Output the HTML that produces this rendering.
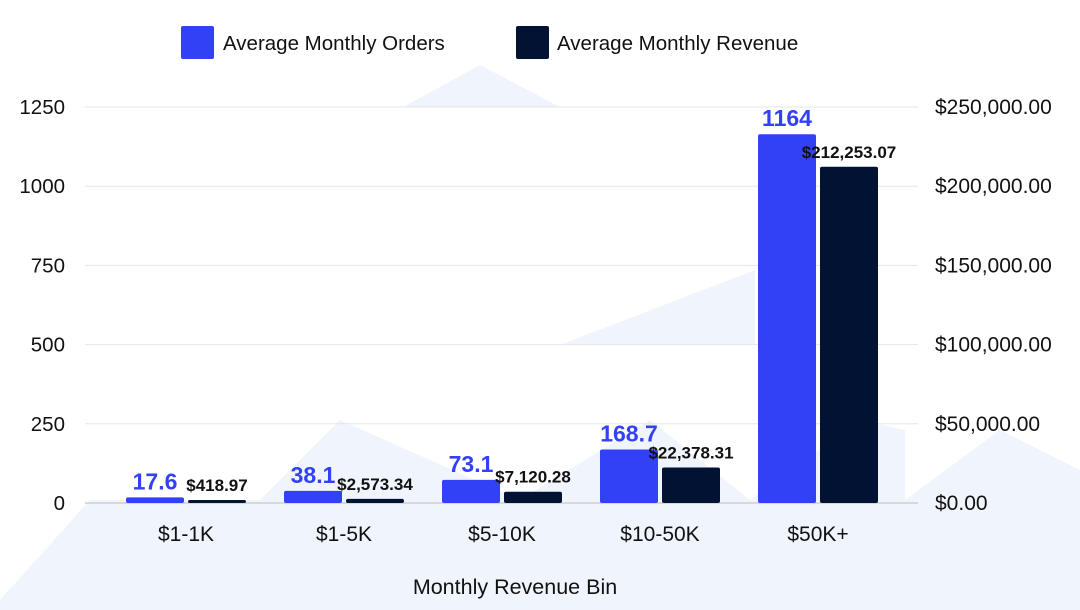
<!DOCTYPE html>
<html><head><meta charset="utf-8">
<style>
html,body{margin:0;padding:0;background:#fff;}
svg{display:block;font-family:"Liberation Sans",sans-serif;}
</style></head>
<body>
<svg id="chart" width="1080" height="610" viewBox="0 0 1080 610">
  <g fill="#f0f4fc">
    <polygon points="403,107 480,65 560,107"/>
    <polygon points="0,600 90,500 260,500 340,420 520,500 650,420 750,500 860,420 905,430 905,500 1000,430 1080,470 1080,610 0,610"/>
    <polygon points="560,345 755,270 755,345"/>
  </g>
  <g id="grid"></g>
  <g id="bars"></g>
  <g id="axes"></g>
  <g>
    <rect x="181" y="26" width="33" height="33" rx="2" fill="#3341f6"/>
    <text x="223" y="50" font-size="20.5" fill="#111">Average Monthly Orders</text>
    <rect x="516" y="26" width="33" height="33" rx="2" fill="#011232"/>
    <text x="557" y="50" font-size="20.5" fill="#111">Average Monthly Revenue</text>
  </g>
  <text x="515" y="594" font-size="21.5" fill="#111" text-anchor="middle">Monthly Revenue Bin</text>
</svg>
<script>
const categories = ["$1-1K","$1-5K","$5-10K","$10-50K","$50K+"];
const orders = [17.6, 38.1, 73.1, 168.7, 1164];
const revenue = [418.97, 2573.34, 7120.28, 22378.31, 212253.07];
const leftTicks = [0, 250, 500, 750, 1000, 1250];
const rightTicks = [0, 50000, 100000, 150000, 200000, 250000];

const NS = "http://www.w3.org/2000/svg";
const y0 = 503, y1 = 107;
const yL = v => y0 - (v / 1250) * (y0 - y1);
const yR = v => y0 - (v / 250000) * (y0 - y1);
const band = 158, x0 = 107;
const xC = i => x0 + band * i + band / 2;
function mk(tag, attrs, parent) {
  const e = document.createElementNS(NS, tag);
  for (const k in attrs) e.setAttribute(k, attrs[k]);
  parent.appendChild(e);
  return e;
}
const grid = document.getElementById('grid');
const axes = document.getElementById('axes');
const bars = document.getElementById('bars');
leftTicks.forEach((t, i) => {
  const ln = mk('line', {x1: 85, x2: 918, y1: yL(t), y2: yL(t), stroke: i === 0 ? '#cfcfcf' : '#e6e6e6', 'stroke-width': i === 0 ? 1.5 : 1}, grid);
  
  
  const tx = mk('text', {x: 65, y: yL(t) + 7, 'font-size': 20.5, fill: '#111', 'text-anchor': 'end'}, axes);
  tx.textContent = t;
  
  
});
rightTicks.forEach(t => {
  const tx = mk('text', {x: 935, y: yR(t) + 7, 'font-size': 21, fill: '#111'}, axes);
  tx.textContent = '$' + t.toLocaleString('en-US', {minimumFractionDigits: 2, maximumFractionDigits: 2});
  
  
});
categories.forEach((c, i) => {
  const cx = xC(i);
  const tx = mk('text', {x: cx, y: 541, 'font-size': 21, fill: '#111', 'text-anchor': 'middle'}, axes);
  tx.textContent = c;
  
  
  const w = 58;
  const yo = yL(orders[i]);
  const b1 = mk('rect', {x: cx - w - 2, y: yo, width: w, height: y0 - yo, rx: 2, fill: '#3341f6'}, bars);
  
  
  const l1 = mk('text', {x: cx - w / 2 - 2, y: yo - 8, 'font-size': 23, 'font-weight': 'bold', fill: '#3341f6', 'text-anchor': 'middle'}, bars);
  l1.textContent = String(orders[i]);
  
  
  const yr = Math.min(yR(revenue[i]), y0 - 3);
  const b2 = mk('rect', {x: cx + 2, y: yr, width: w, height: y0 - yr, rx: 2, fill: '#011232'}, bars);
  
  
  const l2 = mk('text', {x: cx + w / 2 + 2, y: yr - 9, 'font-size': 17, 'font-weight': 'bold', fill: '#111', 'text-anchor': 'middle'}, bars);
  l2.textContent = '$' + revenue[i].toLocaleString('en-US', {minimumFractionDigits: 2, maximumFractionDigits: 2});
  
  
});
</script>
</body></html>
